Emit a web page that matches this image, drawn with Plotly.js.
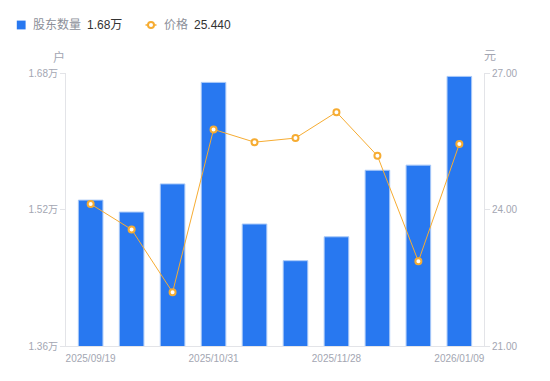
<!DOCTYPE html>
<html>
<head>
<meta charset="utf-8">
<script src="https://cdn.plot.ly/plotly-3.0.1.min.js"></script>
<style>html,body{margin:0;padding:0;background:#fff;}#chart{width:550px;height:381px;}</style>
</head>
<body>
<div id="chart"></div>
<script>
var dates = ['2025/09/19','2025/09/30','2025/10/17','2025/10/31','2025/11/10','2025/11/20','2025/11/28','2025/12/10','2025/12/31','2026/01/09'];
var holders = [15310, 15170, 15500, 16690, 15030, 14600, 14880, 15660, 15720, 16760];
var price = [24.12, 23.56, 22.18, 25.76, 25.48, 25.57, 26.14, 25.18, 22.86, 25.44];
var holderTicks = [13600, 15200, 16800];
var holderTickText = ['1.36万', '1.52万', '1.68万'];
var priceTicks = [21, 24, 27];
var priceTickText = ['21.00', '24.00', '27.00'];
var xTickDates = [dates[0], dates[3], dates[6], dates[9]];
var legendNames = ['股东数量', '价格'];
var legendValues = ['1.68万', '25.440'];

var M = {l: 66, r: 66, t: 73, b: 35};
var W = 550, H = 381, PW = W - M.l - M.r, PH = H - M.t - M.b;
function px(x) { return (x - M.l) / PW; }
function py(y) { return (H - M.b - y) / PH; }

var font = 'Liberation Sans, Arial, "Noto Sans CJK SC", sans-serif';
var blue = '#2878F0', orange = '#F6AC32', grey = '#a3a6b2';
var data = [
  {
    type: 'bar', x: dates, y: holders, name: legendNames[0],
    marker: {color: blue, line: {color: '#a9c9f8', width: 1}},
    width: 0.6, hoverinfo: 'skip'
  },
  {
    type: 'scatter', mode: 'lines+markers', x: dates, y: price, yaxis: 'y2', name: legendNames[1],
    line: {color: orange, width: 1},
    marker: {symbol: 'circle', size: 6, color: '#ffffff', line: {color: orange, width: 2}},
    hoverinfo: 'skip'
  }
];
var legY = 25;
var layout = {
  width: W, height: H,
  margin: M,
  paper_bgcolor: '#fff', plot_bgcolor: '#fff',
  font: {family: font, size: 11, color: grey},
  showlegend: false,
  xaxis: {
    type: 'category', tickmode: 'array', tickvals: xTickDates, ticktext: xTickDates,
    showgrid: false, showline: true, linecolor: '#e3e4e8', linewidth: 1,
    ticks: '', ticklabelstandoff: 3, tickfont: {size: 10, color: grey}, fixedrange: true, zeroline: false, automargin: false
  },
  yaxis: {
    range: [13600, 16800], tickmode: 'array', tickvals: holderTicks, ticktext: holderTickText,
    showgrid: false, showline: true, linecolor: '#e3e4e8', linewidth: 1,
    ticks: 'outside', ticklen: 5, tickcolor: '#e3e4e8', tickfont: {size: 10, color: grey},
    zeroline: false, fixedrange: true, automargin: false
  },
  yaxis2: {
    overlaying: 'y', side: 'right', range: [21, 27], tickmode: 'array', tickvals: priceTicks, ticktext: priceTickText,
    showgrid: false, showline: true, linecolor: '#e3e4e8', linewidth: 1,
    ticks: 'outside', ticklen: 5, tickcolor: '#e3e4e8', tickfont: {size: 10, color: grey},
    zeroline: false, fixedrange: true, automargin: false
  },
  shapes: [
    {type: 'rect', xref: 'paper', yref: 'paper', x0: px(16.8), x1: px(25.6), y0: py(legY - 4.4), y1: py(legY + 4.4),
      fillcolor: blue, line: {width: 0}, layer: 'above'},
    {type: 'line', xref: 'paper', yref: 'paper', x0: px(145.5), x1: px(156.5), y0: py(legY), y1: py(legY),
      line: {color: orange, width: 1.5}, layer: 'above'},
    {type: 'circle', xref: 'paper', yref: 'paper', x0: px(148), x1: px(154), y0: py(legY - 3), y1: py(legY + 3),
      fillcolor: '#fff', line: {color: orange, width: 2}, layer: 'above'}
  ],
  annotations: [
    {text: '户', xref: 'paper', yref: 'paper', x: px(58.5), y: py(57), xanchor: 'center', yanchor: 'middle', showarrow: false, font: {size: 12, color: grey}},
    {text: '元', xref: 'paper', yref: 'paper', x: px(490), y: py(56), xanchor: 'center', yanchor: 'middle', showarrow: false, font: {size: 12, color: grey}},
    {text: legendNames[0], xref: 'paper', yref: 'paper', x: px(30.5), y: py(legY), xanchor: 'left', yanchor: 'middle', showarrow: false, font: {size: 12, color: '#8c8f99'}},
    {text: legendValues[0], xref: 'paper', yref: 'paper', x: px(84.5), y: py(legY), xanchor: 'left', yanchor: 'middle', showarrow: false, font: {size: 12, color: '#333333'}},
    {text: legendNames[1], xref: 'paper', yref: 'paper', x: px(161.5), y: py(legY), xanchor: 'left', yanchor: 'middle', showarrow: false, font: {size: 12, color: '#8c8f99'}},
    {text: legendValues[1], xref: 'paper', yref: 'paper', x: px(191.5), y: py(legY), xanchor: 'left', yanchor: 'middle', showarrow: false, font: {size: 12, color: '#333333'}}
  ]
};
Plotly.newPlot('chart', data, layout, {displayModeBar: false, staticPlot: true});
</script>
</body>
</html>
